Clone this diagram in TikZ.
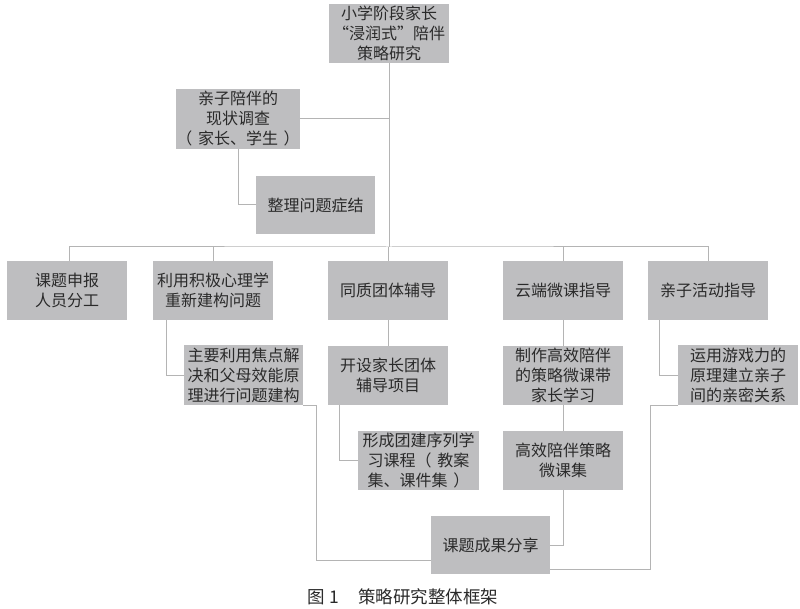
\documentclass[tikz,border=0pt]{standalone}
\usepackage{fontspec}
\setmainfont{Noto Sans CJK SC}
\newfontfamily\cjk{Noto Sans CJK SC}
\definecolor{boxfill}{HTML}{BEBEC0}
\definecolor{txt}{HTML}{2A2A2A}
\definecolor{ln}{HTML}{B4B4B4}
\begin{document}
\begin{tikzpicture}[x=1pt,y=-1pt,
  box/.style={fill=boxfill,draw=none,text=txt,inner sep=0pt,align=center,
    font=\cjk\fontsize{16}{20}\selectfont,minimum width=120pt,minimum height=59pt},
  conn/.style={draw=ln,line width=1pt}]
\useasboundingbox (0,0) rectangle (800,609);
\node[box] (top) at (389,33.5) {小学阶段家长\\“浸润式”陪伴\\策略研究};
\node[box,minimum width=118pt,minimum height=60pt] (survey) at (238,119) {亲子陪伴的\\现状调查\\（\hspace{0.35em}家长、学生\hspace{0.35em}）};
\node[box,minimum width=119pt,minimum height=58pt] (zl) at (315.5,205) {整理问题症结};
\node[box] (b1) at (67,290.5) {课题申报\\人员分工};
\node[box] (b2) at (213,290.5) {利用积极心理学\\重新建构问题};
\node[box] (b3) at (388,290.5) {同质团体辅导};
\node[box] (b4) at (563,290.5) {云端微课指导};
\node[box] (b5) at (708,290.5) {亲子活动指导};
\node[box,minimum width=119pt,minimum height=60pt] (c2) at (243.5,375) {主要利用焦点解\\决和父母效能原\\理进行问题建构};
\node[box] (c3) at (388,375.5) {开设家长团体\\辅导项目};
\node[box] (c4) at (563,375.5) {制作高效陪伴\\的策略微课带\\家长学习};
\node[box,minimum height=60pt] (c5) at (738,375) {运用游戏力的\\原理建立亲子\\间的亲密关系};
\node[box,minimum width=121pt] (d3) at (418.5,460.5) {形成团建序列学\\习课程（\hspace{0.35em}教案\\集、课件集\hspace{0.35em}）};
\node[box] (d4) at (563,460.5) {高效陪伴策略\\微课集};
\node[box,minimum width=119pt,minimum height=58pt] (e) at (490.5,545) {课题成果分享};
\node[text=txt,font=\cjk\fontsize{17.5}{20}\selectfont,inner sep=0pt] (cap) at (403,597) {图 1\hspace{1.1em}策略研究整体框架};
\coordinate (hub) at (389,247);
\draw[conn] (top.south) -- (hub);
\draw[conn] (survey.east) -- (survey.east -| top.south);
\draw[conn] (survey.south) |- (zl.west);
\draw[conn] ([xshift=2pt]b1.north) |- (hub) -| (b5.north);
\draw[conn] (b2.north) -- (b2.north |- hub);
\draw[conn] (b3.north) -- (b3.north |- hub);
\draw[conn] (b4.north) -- (b4.north |- hub);
\draw[conn] ([xshift=14pt]b2.south west) |- (c2.west);
\draw[conn] (b3.south) -- (c3.north);
\draw[conn] ([xshift=12pt]c3.south west) |- (d3.west);
\draw[conn] (b4.south) -- (c4.north);
\draw[conn] (c4.south) -- (d4.north);
\draw[conn] ([xshift=12pt]b5.south west) |- (c5.west);
\draw[conn] (c2.south east) -- ++(13,0) |- ([yshift=-15pt]e.west);
\draw[conn] (d4.south) |- (e.east);
\draw[conn] (c5.south west) -- ++(-27,0) |- ([yshift=-24pt]e.east);
\end{tikzpicture}
\end{document}
